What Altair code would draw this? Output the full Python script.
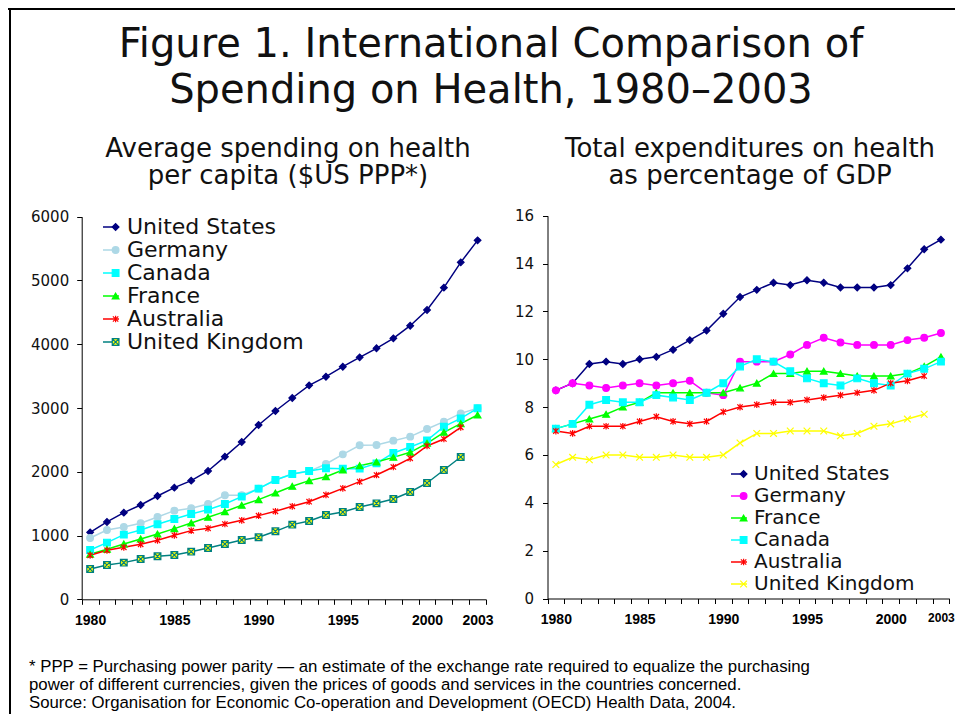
import altair as alt
import pandas as pd

# ---------------- data ----------------
years = list(range(1980, 2004))

left_countries = ["United States", "Germany", "Canada", "France", "Australia", "United Kingdom"]
right_countries = ["United States", "Germany", "France", "Canada", "Australia", "United Kingdom"]

# Average spending on health per capita ($US PPP)
us_pc = [1050, 1213, 1359, 1479, 1620, 1751, 1861, 2012, 2237, 2467, 2734, 2953,
         3157, 3355, 3491, 3648, 3794, 3936, 4092, 4291, 4537, 4887, 5284, 5629]
de_pc = [962, 1087, 1134, 1192, 1291, 1390, 1427, 1495, 1631, 1633, 1735, 1871,
         1965, 2007, 2122, 2273, 2415, 2420, 2488, 2551, 2671, 2786, 2916, 2996]
ca_pc = [774, 889, 1014, 1087, 1176, 1260, 1338, 1406, 1495, 1610, 1735, 1871,
         1965, 2012, 2054, 2049, 2049, 2132, 2294, 2389, 2493, 2707, 2838, 2995]
fr_pc = [706, 784, 868, 946, 1024, 1108, 1197, 1286, 1375, 1474, 1563, 1667,
         1772, 1861, 1923, 2028, 2096, 2153, 2226, 2305, 2446, 2618, 2754, 2890]
au_pc = [690, 768, 815, 862, 925, 1003, 1077, 1113, 1181, 1239, 1312, 1380,
         1458, 1531, 1636, 1740, 1845, 1949, 2075, 2211, 2404, 2514, 2697, None]
uk_pc = [476, 538, 575, 632, 674, 695, 747, 805, 868, 930, 972, 1066,
         1171, 1228, 1322, 1369, 1448, 1505, 1573, 1683, 1824, 2028, 2232, None]

# Total expenditures on health as % of GDP
us_gdp = [8.7, 9.0, 9.8, 9.9, 9.8, 10.0, 10.1, 10.4, 10.8, 11.2, 11.9, 12.6,
          12.9, 13.2, 13.1, 13.3, 13.2, 13.0, 13.0, 13.0, 13.1, 13.8, 14.6, 15.0]
de_gdp = [8.7, 9.0, 8.9, 8.8, 8.9, 9.0, 8.9, 9.0, 9.1, 8.6, 8.5, 9.9,
          9.9, 9.9, 10.2, 10.6, 10.9, 10.7, 10.6, 10.6, 10.6, 10.8, 10.9, 11.1]
fr_gdp = [7.1, 7.3, 7.5, 7.7, 8.0, 8.2, 8.6, 8.6, 8.6, 8.6, 8.6, 8.8,
          9.0, 9.4, 9.4, 9.5, 9.5, 9.4, 9.3, 9.3, 9.3, 9.4, 9.7, 10.1]
ca_gdp = [7.1, 7.3, 8.1, 8.3, 8.2, 8.2, 8.5, 8.4, 8.3, 8.6, 9.0, 9.7,
          10.0, 9.9, 9.5, 9.2, 9.0, 8.9, 9.2, 9.0, 8.9, 9.4, 9.6, 9.9]
au_gdp = [7.0, 6.9, 7.2, 7.2, 7.2, 7.4, 7.6, 7.4, 7.3, 7.4, 7.8, 8.0,
          8.1, 8.2, 8.2, 8.3, 8.4, 8.5, 8.6, 8.7, 9.0, 9.1, 9.3, None]
uk_gdp = [5.6, 5.9, 5.8, 6.0, 6.0, 5.9, 5.9, 6.0, 5.9, 5.9, 6.0, 6.5,
          6.9, 6.9, 7.0, 7.0, 7.0, 6.8, 6.9, 7.2, 7.3, 7.5, 7.7, None]

left_y_ticks = [0, 1000, 2000, 3000, 4000, 5000, 6000]
right_y_ticks = [0, 2, 4, 6, 8, 10, 12, 14, 16]

title_lines = ["Figure 1. International Comparison of", "Spending on Health, 1980\u20132003"]
left_sub = ["Average spending on health", "per capita ($US PPP*)"]
right_sub = ["Total expenditures on health", "as percentage of GDP"]
foot_lines = [
    "* PPP = Purchasing power parity \u2014 an estimate of the exchange rate required to equalize the purchasing",
    "power of different currencies, given the prices of goods and services in the countries concerned.",
    "Source: Organisation for Economic Co-operation and Development (OECD) Health Data, 2004.",
]

# ---------------- styles ----------------
ASTER = "M0,-1L0,1M-0.8,-0.8L0.8,0.8M-0.8,0.8L0.8,-0.8"
BOXX = "M-1,-1L1,-1L1,1L-1,1ZM-1,-1L1,1M1,-1L-1,1"
XMARK = "M-1,-1L1,1M1,-1L-1,1"

left_line_colors = ["#000080", "#ADD8E6", "#00FFFF", "#00FF00", "#FF0000", "#008080"]
left_fill_colors = ["#000080", "#ADD8E6", "#00FFFF", "#00FF00", "#FF0000", "#FFFF00"]
left_shapes = ["diamond", "circle", "square", "triangle-up", ASTER, BOXX]

right_line_colors = ["#000080", "#FF00FF", "#00FF00", "#00FFFF", "#FF0000", "#FFFF00"]
right_shapes = ["diamond", "circle", "triangle-up", "square", ASTER, XMARK]

W, H = 947, 706
TEXT_FONT = "DejaVu Sans"


def long_df(series_by_country):
    rows = []
    for country, vals in series_by_country.items():
        for yr, v in zip(years, vals):
            if v is not None:
                rows.append({"year": yr, "value": v, "country": country, "mk": country + "_m"})
    return pd.DataFrame(rows)


left_df = long_df({"United States": us_pc, "Germany": de_pc, "Canada": ca_pc,
                   "France": fr_pc, "Australia": au_pc, "United Kingdom": uk_pc})
right_df = long_df({"United States": us_gdp, "Germany": de_gdp, "France": fr_gdp,
                    "Canada": ca_gdp, "Australia": au_gdp, "United Kingdom": uk_gdp})


def panel(df, order, line_colors, fill_colors, stroke_colors, shapes,
          xrange, yrange, ydomain, yticks, x_off, y_off, y_labpad,
          leg_x, leg_y, leg_font, row_pad, small_last=False):
    label_size = 14
    if small_last:
        label_size = {"condition": {"test": "datum.value == 2003", "value": 12}, "value": 14}
    x = alt.X("year:O",
              scale=alt.Scale(type="band", range=xrange, paddingInner=0, paddingOuter=0),
              axis=alt.Axis(orient="bottom", offset=x_off, title=None, tickBand="extent",
                            labelExpr="(datum.value % 5 == 0 || datum.value == 2003) ? datum.label : ''",
                            labelAngle=0, labelFont="Liberation Sans", labelFontWeight="bold",
                            labelFontSize=label_size, labelColor="black", tickColor="black",
                            domainColor="black", tickSize=5, labelPadding=9, grid=False,
                            labelOverlap=False, labelFlush=False))
    y = alt.Y("value:Q",
              scale=alt.Scale(domain=ydomain, range=yrange, nice=False, zero=True),
              axis=alt.Axis(orient="left", offset=y_off, values=yticks, title=None,
                            labelFont=TEXT_FONT, labelFontSize=15, labelColor="#111",
                            tickColor="black", domainColor="black", tickSize=5,
                            labelPadding=y_labpad, grid=False, format="d"))
    codes = [c + "_m" for c in order]
    line_legend = alt.Legend(orient="none", legendX=leg_x, legendY=leg_y, title=None,
                             symbolType="stroke", symbolSize=256, symbolStrokeWidth=1.5,
                             labelFont=TEXT_FONT, labelFontSize=leg_font, labelColor="#111",
                             labelOffset=5, rowPadding=row_pad, padding=0, labelLimit=400)
    pt_legend = alt.Legend(orient="none", legendX=leg_x + 4.6, legendY=leg_y, title=None,
                           symbolSize=45, symbolStrokeWidth=1.2,
                           labelFont=TEXT_FONT, labelFontSize=leg_font, labelExpr="''",
                           labelOffset=5, rowPadding=row_pad, padding=0, labelLimit=400)
    lines = alt.Chart(df).mark_line(strokeWidth=1.5).encode(
        x=x, y=y,
        color=alt.Color("country:N", scale=alt.Scale(domain=order, range=line_colors),
                        legend=line_legend),
    )
    pts = alt.Chart(df).mark_point(filled=True, size=45, strokeWidth=1.2, opacity=1).encode(
        x=x, y=y,
        fill=alt.Fill("mk:N", scale=alt.Scale(domain=codes, range=fill_colors), legend=pt_legend),
        stroke=alt.Stroke("mk:N", scale=alt.Scale(domain=codes, range=stroke_colors), legend=pt_legend),
        shape=alt.Shape("mk:N", scale=alt.Scale(domain=codes, range=shapes), legend=pt_legend),
    )
    return alt.layer(lines, pts)


left_panel = panel(left_df, left_countries, left_line_colors, left_fill_colors, left_line_colors,
                   left_shapes, [73.7, 478.0], [591.3, 208.7], [0, 6000], left_y_ticks,
                   -(H - 591.3), -73.7, 8, 92, 208, 22, 1)
right_panel = panel(right_df, right_countries, right_line_colors, right_line_colors, right_line_colors,
                    right_shapes, [539.5, 941.3], [590.5, 207.7], [0, 16], right_y_ticks,
                    -(H - 590.5), -539.5, 9, 721, 456, 20, 2, small_last=True)

dummy = pd.DataFrame({"k": [0]})

border_top = alt.Chart(dummy).mark_rule(color="black", strokeWidth=2).encode(
    x=alt.value(0), x2=alt.value(W), y=alt.value(1))
border_left = alt.Chart(dummy).mark_rule(color="black", strokeWidth=2).encode(
    x=alt.value(2), y=alt.value(0), y2=alt.value(H))

main_title = alt.Chart(dummy).mark_text(
    text=title_lines, font=TEXT_FONT, fontSize=40, lineHeight=46, align="center",
    baseline="alphabetic", color="#111").encode(x=alt.value(483), y=alt.value(49.3))
sub_left = alt.Chart(dummy).mark_text(
    text=left_sub, font=TEXT_FONT, fontSize=26, lineHeight=27.5, align="center",
    baseline="alphabetic", color="#111").encode(x=alt.value(280), y=alt.value(148.7))
sub_right = alt.Chart(dummy).mark_text(
    text=right_sub, font=TEXT_FONT, fontSize=26, lineHeight=27.5, align="center",
    baseline="alphabetic", color="#111").encode(x=alt.value(742), y=alt.value(148.7))
footnote = alt.Chart(dummy).mark_text(
    text=foot_lines, font="Liberation Sans", fontSize=16.8, lineHeight=18, align="left",
    baseline="alphabetic", color="black").encode(x=alt.value(21), y=alt.value(663.7))

chart = alt.layer(
    border_top, border_left, main_title, sub_left, sub_right, footnote, left_panel, right_panel
).resolve_scale(
    x="independent", y="independent", color="independent", fill="independent",
    stroke="independent", shape="independent"
).resolve_axis(
    x="independent", y="independent"
).resolve_legend(
    color="independent", fill="independent", stroke="independent", shape="independent"
).properties(
    width=W, height=H,
    padding={"left": 0, "top": 0, "right": 0, "bottom": 0},
    autosize=alt.AutoSizeParams(type="none"),
    background="white",
).configure_view(stroke=None)

chart.save("out.html", embed_options={"renderer": "svg", "actions": False})
